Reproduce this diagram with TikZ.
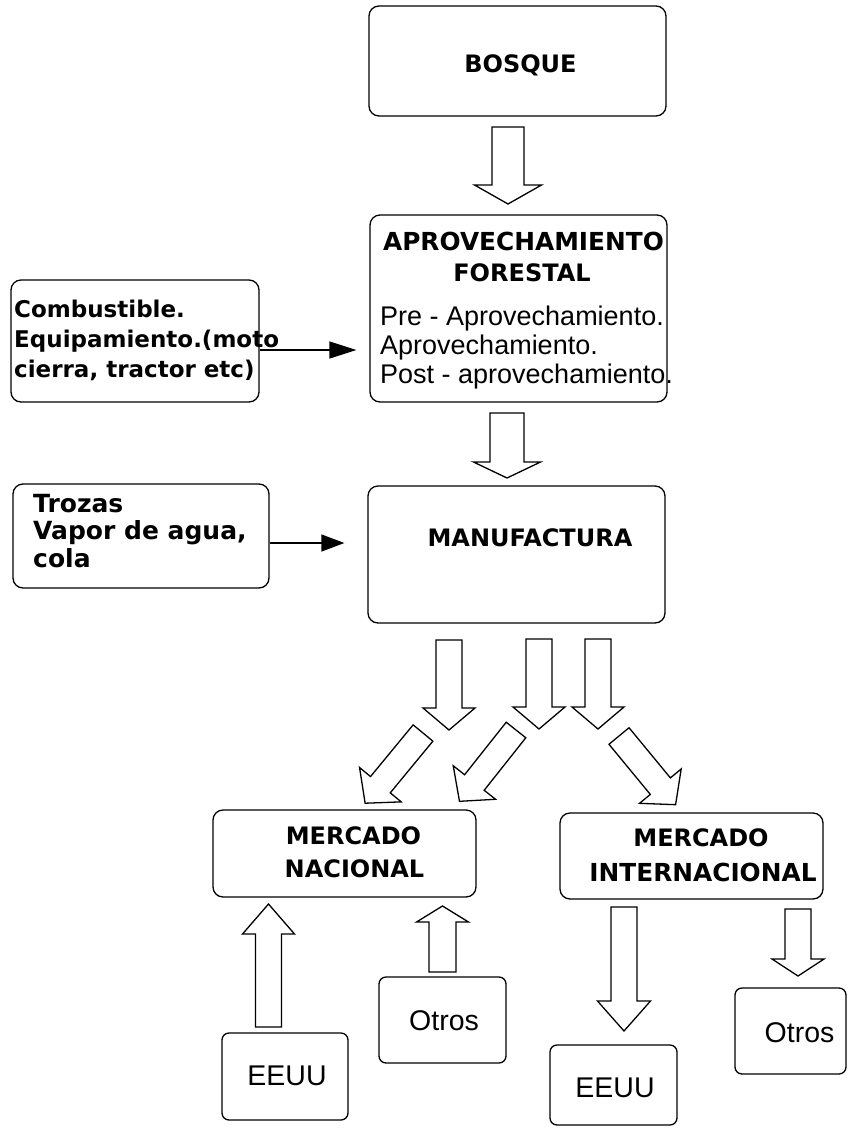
\documentclass[tikz,border=0pt]{standalone}
\usepackage{fontspec}
\setmainfont{Liberation Sans}
\newfontfamily\titlefont{DejaVu Sans}
\usetikzlibrary{arrows.meta}
\newcommand{\blockarr}[7]{% x, y, angle, length, shaft half width, head half width, head length
  \begin{scope}[shift={(#1,#2)},rotate=#3]
    \draw[blk] (0,-#5) -- ({#4-#7},-#5) -- ({#4-#7},-#6) -- (#4,0) -- ({#4-#7},#6) -- ({#4-#7},#5) -- (0,#5) -- cycle;
  \end{scope}}
\begin{document}
\begin{tikzpicture}[x=1pt,y=-1pt,
  box/.style={draw,line width=1.3pt,rounded corners=10pt,inner sep=0pt},
  sbox/.style={box,rounded corners=7pt},
  blk/.style={draw,line width=1.3pt,fill=white,line join=miter},
  ttl/.style={font=\titlefont\bfseries\fontsize{24}{28}\selectfont,inner sep=0pt},
  ttlw/.style={font=\titlefont\bfseries\fontsize{24.8}{28}\selectfont,inner sep=0pt},
  btx/.style={font=\titlefont\bfseries\fontsize{23}{27}\selectfont,inner sep=0pt,anchor=base west},
  btxl/.style={font=\titlefont\bfseries\fontsize{25}{27}\selectfont,inner sep=0pt,anchor=base west},
  rtx/.style={font=\fontsize{27}{29}\selectfont,inner sep=0pt,anchor=base west},
  ctx/.style={font=\fontsize{28.5}{32}\selectfont,inner sep=0pt,anchor=base},
  thinarr/.style={line width=1.3pt}]
\useasboundingbox (0,0) rectangle (853,1128);
\fill[white] (0,0) rectangle (853,1128);

% boxes
\node[box,minimum width=297pt,minimum height=110pt] (bosque) at (517.5,61) {};
\node[box,minimum width=297pt,minimum height=187pt] (aprov) at (518.5,308.5) {};
\node[box,minimum width=248pt,minimum height=122pt] (comb) at (135,341) {};
\node[box,minimum width=297pt,minimum height=137pt] (manuf) at (516.5,554.5) {};
\node[box,minimum width=256pt,minimum height=104pt] (trozas) at (141,536) {};
\node[box,minimum width=263pt,minimum height=87pt] (nac) at (344.5,853.5) {};
\node[box,minimum width=263pt,minimum height=86pt] (intl) at (691.5,856) {};
\node[sbox,minimum width=126pt,minimum height=87pt] (eeuu1) at (285,1076.5) {};
\node[sbox,minimum width=127pt,minimum height=86pt] (otros1) at (442.5,1020) {};
\node[sbox,minimum width=127pt,minimum height=80pt] (eeuu2) at (613.5,1085) {};
\node[sbox,minimum width=111pt,minimum height=86pt] (otros2) at (790.5,1031) {};

% texts
\node[ttl] (tbosque) at (520.5,65.5) {BOSQUE};
\node[ttlw] (tap1) at (523.5,241) {APROVECHAMIENTO};
\node[ttl] (tap2) at (522,272.5) {FORESTAL};
\node[rtx] (tpre) at (380,325) {Pre - Aprovechamiento.};
\node[rtx] (tapr) at (380,354) {Aprovechamiento.};
\node[rtx] (tpost) at (380,383) {Post - aprovechamiento.};
\node[btx] (tc1) at (14,317) {Combustible.};
\node[btx] (tc2) at (14,347) {Equipamiento.(moto};
\node[btx] (tc3) at (14,377) {cierra, tractor etc)};
\node[ttl] (tmanuf) at (530,538) {MANUFACTURA};
\node[btxl] (tt1) at (33,512) {Trozas};
\node[btxl] (tt2) at (33,539.5) {Vapor de agua,};
\node[btxl] (tt3) at (33,567) {cola};
\node[ttl] (tn1) at (353.5,836) {MERCADO};
\node[ttl] (tn2) at (354.5,869) {NACIONAL};
\node[ttl] (ti1) at (701,838) {MERCADO};
\node[ttlw] (ti2) at (703,872) {INTERNACIONAL};
\node[ctx] (te1) at (287,1085) {EEUU};
\node[ctx] (to1) at (444,1030) {Otros};
\node[ctx] (te2) at (615,1097) {EEUU};
\node[ctx] (to2) at (799.5,1042) {Otros};

% thin arrows
\draw[thinarr,-{Triangle[length=27pt,width=17pt]},shorten >=13pt] (comb.east |- 0,350) -- (aprov.west |- 0,350);
\draw[thinarr,-{Triangle[length=23pt,width=17pt]},shorten >=23pt] (trozas.east |- 0,543) -- (manuf.west |- 0,543);

% block arrows
\blockarr{508}{127}{-90}{77}{16}{33.5}{19}
\blockarr{507}{413}{-90}{65}{17}{33.5}{16}
\blockarr{449}{640}{-90}{90}{13}{26}{22}
\blockarr{539}{639}{-90}{90}{13}{26}{22}
\blockarr{598}{639}{-90}{90}{13}{26}{22}
\blockarr{423}{733}{-129.5}{91}{12.8}{27}{24}
\blockarr{516}{730}{-128.4}{91}{12.5}{27}{24}
\blockarr{619}{736}{-50.5}{89}{13}{27}{24}
\blockarr{268.5}{1027}{90}{123}{13}{26}{30}
\blockarr{442.5}{972}{90}{66}{13.5}{26}{16}
\blockarr{624}{907}{-90}{124}{13}{26.5}{30}
\blockarr{798}{909}{-90}{67}{13}{26}{17}
\end{tikzpicture}
\end{document}
